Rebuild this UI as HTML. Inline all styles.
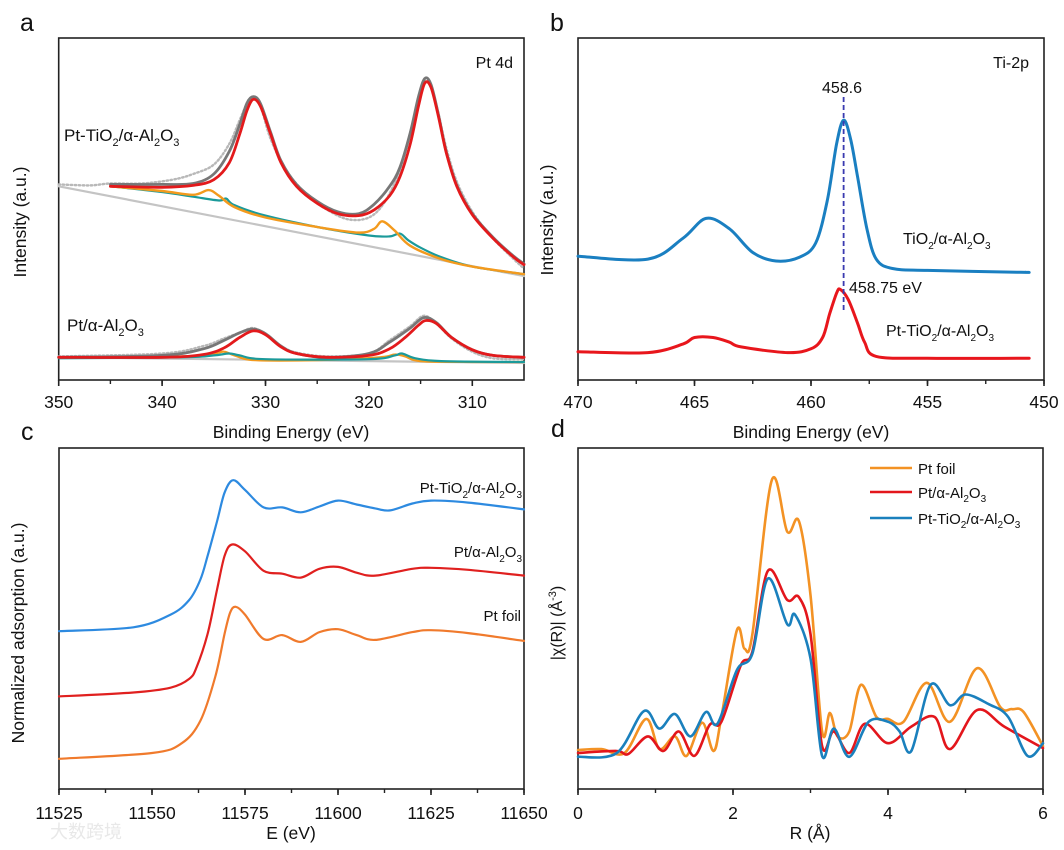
<!DOCTYPE html>
<html><head><meta charset="utf-8"><style>
html,body{margin:0;padding:0;background:#fff;}
svg{display:block;font-family:"Liberation Sans","Noto Sans CJK SC",sans-serif;}
</style></head><body>
<svg id="fig" width="1064" height="850" viewBox="0 0 1064 850">
<g font-size="25" fill="#111">
<text x="20" y="31">a</text>
<text x="550" y="31">b</text>
<text x="21" y="440">c</text>
<text x="551" y="437">d</text>
</g>
<text x="50" y="838" font-size="18" fill="#e8e8e8">大数跨境</text>
<g id="layer"></g>
</svg>
<script>
// ---------- Panel a data (Pt 4d XPS) ----------
const aTicks=[350,340,330,320,310];
const aTiRedX=[345,340,337,335,333.5,332.5,331.8,331.2,330.5,329.5,328.5,327,325,323,321,319.5,318,317,316,315.2,314.6,314,313.3,312.5,311.5,310,308,306,305];
const aTiRedY=[205,204,206,212,230,260,285,297,290,260,230,205,187,176,174,180,195,215,250,290,314,310,280,240,205,175,150,130,122];
const aTiFitY=[207,207,208,218,242,270,293,300,293,262,232,207,189,178,176,186,205,225,262,300,319,313,282,241,206,176,151,131,123];
const aTiRawX=[350,347,345,342,339,337,335,333.5,332.5,331.8,331.2,330.5,329.5,328,326,324,322,320,318.5,317,316,315.2,314.6,314,313.3,312.5,311.5,310,308,306,305];
const aTiRawY=[207,206,208,208,212,218,228,250,275,292,298,290,255,222,196,180,170,172,188,222,262,298,316,310,283,245,210,178,150,128,118];
const aTiBgX=[350,305];
const aTiBgY=[205,110];
const aTiOrX=[345,340,337,335.5,334.5,333,330,325,321,319.5,318.7,317.5,316,313,310,305];
const aTiOrY=[205,200,196,201,195,183,172,162,156,160,168,158,142,128,120,112];
const aTiTeX=[345,340,337,334.5,333.8,333,330,325,320,318,317,316.2,315,313,310,305];
const aTiTeY=[205,199,194,190,192,185,174,162,153,152,155,148,140,130,120,112];
const aAlX=[350,340,336,334,332.5,331.2,330,328.5,327,324,320,318,316.5,315.2,314.5,313.5,312,310,308,305];
const aAlRedY=[24,24,27,34,45,52,48,35,28,24,26,33,45,58,63,60,45,32,26,24];
const aAlFitX=[350,340,336,334,332.5,331.2,330,328.5,327,324,320,318,316,314.7,313.5,312,310,308,305];
const aAlFitY=[24,26,33,42,50,54,49,36,28,24,28,40,55,66,61,45,32,26,24];
const aAlRawY=[25,28,36,44,50,55,48,36,29,25,28,42,57,68,60,44,30,23,22];
const aAlOrX=[350,338,335,334,333,331,325,319,317.5,316.5,315,310,305];
const aAlOrY=[24,25,28,30,26,21,21,24,27,25,20,19,19];
const aAlTeX=[350,338,335,333.5,332.5,330,320,317.5,316.8,315.5,313,305];
const aAlTeY=[23,24,26,28,26,22,22,26,28,23,20,19];
const aAlBgX=[350,305];
const aAlBgY=[24,18];
// ---------- Panel b data (Ti 2p) ----------
const bTicks=[470,465,460,455,450];
const bBlueX=[470,467,465.5,464.5,463.5,462.5,461.5,460.5,459.8,459.3,458.9,458.6,458.3,458,457.6,457.2,456.5,455,451,450.8];
const bBlueY=[131,128,150,171,160,135,126,130,145,190,250,275,255,215,160,128,118,116,114,114];
const bRedX=[470,467,465.5,465,464.2,463.5,463,461,460,459.5,459.2,458.9,458.75,458.4,458,457.7,457.2,455,451,450.8];
const bRedY=[30,29,38,45,45,40,35,29,33,45,70,92,96,85,60,40,25,23,23,23];
// ---------- Panel c data (XANES) ----------
const cTicks=[11525,11550,11575,11600,11625,11650];
const cBlueX=[11525,11545,11555,11560,11563,11565,11567.5,11569.5,11571.8,11575,11580,11585,11590,11595,11600,11605,11610,11614,11620,11625,11635,11650];
const cBlueY=[162,166,179,194,215,240,275,304,317,307,289,289,284,290,296,292,288,286,293,296,294,287];
const cRedX=[11525,11545,11555,11560,11562,11565,11567.5,11569.5,11571.5,11575,11580,11585,11590,11595,11600,11605,11610,11620,11625,11635,11650];
const cRedY=[95,99,104,113,125,160,205,239,251,244,224,221,217,226,228,222,219,226,227,225,219];
const cOrX=[11525,11550,11558,11563,11567,11569.5,11571,11572.5,11575,11580,11585,11590,11595,11600,11605,11610,11620,11625,11635,11650];
const cOrY=[31,37,47,70,115,159,181,187,179,154,158,151,161,164,158,153,161,163,160,152];
// ---------- Panel d data (EXAFS FT) ----------
const dTicks=[0,2,4,6];
const dOrX=[0,0.3,0.6,0.88,1.05,1.25,1.4,1.6,1.75,1.85,2.05,2.15,2.25,2.5,2.7,2.85,3.0,3.15,3.25,3.35,3.5,3.65,3.85,4.0,4.2,4.5,4.8,5.15,5.45,5.6,5.75,6.0];
const dOrY=[40,41,37,72,41,54,34,68,39,74,163,144,159,317,264,275,199,59,78,54,59,107,74,72,69,109,69,124,84,82,79,44];
const dRedX=[0,0.5,0.65,0.9,1.1,1.3,1.5,1.7,1.85,2.1,2.25,2.45,2.7,2.85,3.0,3.15,3.3,3.5,3.7,4.0,4.3,4.6,4.8,5.15,5.5,6.0];
const dRedY=[37,39,36,54,39,59,34,66,69,127,141,224,194,197,159,44,59,37,67,47,64,74,41,81,64,42];
const dBlueX=[0,0.5,0.85,1.05,1.25,1.45,1.65,1.8,2.05,2.25,2.45,2.7,2.8,3.0,3.15,3.3,3.5,3.75,4.0,4.15,4.3,4.55,4.8,5.0,5.3,5.55,5.8,6.0];
const dBlueY=[33,37,80,62,77,54,79,67,122,139,216,169,179,134,34,62,33,69,69,59,39,107,86,97,87,74,34,47];

const NS='http://www.w3.org/2000/svg';
const layer=document.getElementById('layer');
function lin(d0,d1,r0,r1){return v=>r0+(v-d0)*(r1-r0)/(d1-d0);}
function mk(tag,attrs,parent){const e=document.createElementNS(NS,tag);for(const k in attrs)e.setAttribute(k,attrs[k]);(parent||layer).appendChild(e);return e;}
function smoothPath(xs,ys,sx,sy){
  const p=xs.map((x,i)=>[sx(x),sy(ys[i])]);
  let d='M'+p[0][0].toFixed(1)+','+p[0][1].toFixed(1);
  for(let i=0;i<p.length-1;i++){
    const p0=p[Math.max(0,i-1)],p1=p[i],p2=p[i+1],p3=p[Math.min(p.length-1,i+2)];
    const c1=[p1[0]+(p2[0]-p0[0])/6,p1[1]+(p2[1]-p0[1])/6];
    const c2=[p2[0]-(p3[0]-p1[0])/6,p2[1]-(p3[1]-p1[1])/6];
    d+='C'+c1[0].toFixed(1)+','+c1[1].toFixed(1)+' '+c2[0].toFixed(1)+','+c2[1].toFixed(1)+' '+p2[0].toFixed(1)+','+p2[1].toFixed(1);
  }
  return d;
}
function series(name,xs,ys,sx,sy,color,w,dash){
  const e=mk('path',{d:smoothPath(xs,ys,sx,sy),fill:'none',stroke:color,'stroke-width':w,'stroke-linejoin':'round','stroke-linecap':'round'});
  if(dash)e.setAttribute('stroke-dasharray',dash);
  
  
  return e;
}
function frame(name,x0,y0,x1,y1,ticks,sx,minorStep,labelY){
  const g=mk('g',{});
  
  
  const r=mk('rect',{x:x0,y:y0,width:x1-x0,height:y1-y0,fill:'none',stroke:'#222','stroke-width':1.6},g);
  
  
  const lo=Math.min(ticks[0],ticks[ticks.length-1]),hi=Math.max(ticks[0],ticks[ticks.length-1]);
  for(let v=lo;v<=hi+1e-9;v+=minorStep){
    const t=mk('line',{x1:sx(v),x2:sx(v),y1:y1,y2:y1+4,stroke:'#222','stroke-width':1.4},g);
    
    
  }
  ticks.forEach(v=>{
    const t=mk('line',{x1:sx(v),x2:sx(v),y1:y1,y2:y1+6,stroke:'#222','stroke-width':1.6},g);
    
    
    const l=mk('text',{x:sx(v),y:labelY,'text-anchor':'middle','font-size':17.5,fill:'#111'},g);
    l.textContent=String(v);
    
    
  });
}

// Panel a
const axA=lin(350,305,58.7,524), ayA=lin(0,362,380,38);
frame('panel-a-axes',58.7,38,524,380,aTicks,axA,5,408);
series('pt-tio2-raw-data',aTiRawX,aTiRawY,axA,ayA,'#b8b8b8',2.4,'1.5 2.5');
series('pt-tio2-background',aTiBgX,aTiBgY,axA,ayA,'#c4c4c4',2.2);
series('pt-tio2-teal-component',aTiTeX,aTiTeY,axA,ayA,'#1b9a9a',2.2);
series('pt-tio2-orange-component',aTiOrX,aTiOrY,axA,ayA,'#f39a1d',2.4);
series('pt-tio2-envelope-fit',aTiRedX,aTiFitY,axA,ayA,'#777',2.8);
series('pt-tio2-red-component',aTiRedX,aTiRedY,axA,ayA,'#e31a1c',2.8);
series('pt-al2o3-raw-data',aAlX.slice(0,1).concat(aAlFitX.slice(1)),aAlRawY,axA,ayA,'#b8b8b8',2.4,'1.5 2.5');
series('pt-al2o3-background',aAlBgX,aAlBgY,axA,ayA,'#c4c4c4',2.2);
series('pt-al2o3-orange-component',aAlOrX,aAlOrY,axA,ayA,'#f39a1d',2.2);
series('pt-al2o3-teal-component',aAlTeX,aAlTeY,axA,ayA,'#1b9a9a',2.2);
series('pt-al2o3-envelope-fit',aAlFitX,aAlFitY,axA,ayA,'#777',2.8);
series('pt-al2o3-red-component',aAlX,aAlRedY,axA,ayA,'#e31a1c',2.8);

// Panel b
const axB=lin(470,450,578,1044), ayB=lin(0,362,380,38);
frame('panel-b-axes',578,38,1044,380,bTicks,axB,2.5,408);
series('tio2-al2o3-ti2p',bBlueX,bBlueY,axB,ayB,'#1a7fc1',3);
series('pt-tio2-al2o3-ti2p',bRedX,bRedY,axB,ayB,'#e8161c',3);
const dl=mk('line',{x1:axB(458.6),x2:axB(458.6),y1:97,y2:312,stroke:'#3a3ab0','stroke-width':1.8,'stroke-dasharray':'5 3'});



// Panel c
const axC=lin(11525,11650,59,524), ayC=lin(0,350,789,448);
frame('panel-c-axes',59,448,524,789,cTicks,axC,12.5,819);
series('xanes-pt-tio2-al2o3',cBlueX,cBlueY,axC,ayC,'#2d8ae0',2.2);
series('xanes-pt-al2o3',cRedX,cRedY,axC,ayC,'#e0201f',2.2);
series('xanes-pt-foil',cOrX,cOrY,axC,ayC,'#f07a2c',2.2);

// Panel d
const axD=lin(0,6,578,1043), ayD=lin(0,350,789,448);
frame('panel-d-axes',578,448,1043,789,dTicks,axD,1,819);
series('exafs-pt-foil',dOrX,dOrY,axD,ayD,'#f39224',2.6);
series('exafs-pt-al2o3',dRedX,dRedY,axD,ayD,'#e3161c',2.6);
series('exafs-pt-tio2-al2o3',dBlueX,dBlueY,axD,ayD,'#1a80bd',2.6);
</script>
<svg width="1064" height="850" style="position:absolute;left:0;top:0" font-family="Liberation Sans, sans-serif">
<g fill="#111">
<text x="291" y="438" font-size="17.5" text-anchor="middle">Binding Energy (eV)</text>
<text x="811" y="438" font-size="17.5" text-anchor="middle">Binding Energy (eV)</text>
<text x="291" y="839" font-size="17.5" text-anchor="middle">E (eV)</text>
<text x="810" y="839" font-size="17.5" text-anchor="middle">R (Å)</text>
<text transform="translate(26,222) rotate(-90)" font-size="17.5" text-anchor="middle">Intensity (a.u.)</text>
<text transform="translate(553,220) rotate(-90)" font-size="17.5" text-anchor="middle">Intensity (a.u.)</text>
<text transform="translate(24,633) rotate(-90)" font-size="17.5" text-anchor="middle">Normalized adsorption (a.u.)</text>
<text transform="translate(562,623) rotate(-90)" font-size="16" text-anchor="middle">|χ(R)| (Å<tspan font-size="11" dy="-6">-3</tspan><tspan dy="6">)</tspan></text>

<text x="513" y="68" font-size="16" text-anchor="end">Pt 4d</text>
<text x="64" y="141" font-size="17">Pt-TiO<tspan font-size="11" dy="5">2</tspan><tspan dy="-5">/α-Al</tspan><tspan font-size="11" dy="5">2</tspan><tspan dy="-5">O</tspan><tspan font-size="11" dy="5">3</tspan></text>
<text x="67" y="331" font-size="17">Pt/α-Al<tspan font-size="11" dy="5">2</tspan><tspan dy="-5">O</tspan><tspan font-size="11" dy="5">3</tspan></text>

<text x="1029" y="68" font-size="16" text-anchor="end">Ti-2p</text>
<text x="842" y="93" font-size="16" text-anchor="middle">458.6</text>
<text x="849" y="293" font-size="16">458.75 eV</text>
<text x="903" y="244" font-size="16">TiO<tspan font-size="10" dy="5">2</tspan><tspan dy="-5">/α-Al</tspan><tspan font-size="10" dy="5">2</tspan><tspan dy="-5">O</tspan><tspan font-size="10" dy="5">3</tspan></text>
<text x="886" y="336" font-size="16">Pt-TiO<tspan font-size="10" dy="5">2</tspan><tspan dy="-5">/α-Al</tspan><tspan font-size="10" dy="5">2</tspan><tspan dy="-5">O</tspan><tspan font-size="10" dy="5">3</tspan></text>

<text x="522" y="493" font-size="15" text-anchor="end">Pt-TiO<tspan font-size="10" dy="5">2</tspan><tspan dy="-5">/α-Al</tspan><tspan font-size="10" dy="5">2</tspan><tspan dy="-5">O</tspan><tspan font-size="10" dy="5">3</tspan></text>
<text x="522" y="557" font-size="15" text-anchor="end">Pt/α-Al<tspan font-size="10" dy="5">2</tspan><tspan dy="-5">O</tspan><tspan font-size="10" dy="5">3</tspan></text>
<text x="521" y="621" font-size="15" text-anchor="end">Pt foil</text>

<g>
<line x1="870" x2="912" y1="468" y2="468" stroke="#f39224" stroke-width="2.4"/>
<text x="918" y="474" font-size="15">Pt foil</text>
<line x1="870" x2="912" y1="492" y2="492" stroke="#e3161c" stroke-width="2.4"/>
<text x="918" y="498" font-size="15">Pt/α-Al<tspan font-size="10" dy="4">2</tspan><tspan dy="-4">O</tspan><tspan font-size="10" dy="4">3</tspan></text>
<line x1="870" x2="912" y1="518" y2="518" stroke="#1a80bd" stroke-width="2.4"/>
<text x="918" y="524" font-size="15">Pt-TiO<tspan font-size="10" dy="4">2</tspan><tspan dy="-4">/α-Al</tspan><tspan font-size="10" dy="4">2</tspan><tspan dy="-4">O</tspan><tspan font-size="10" dy="4">3</tspan></text>
</g>
</g>
</svg>
</body></html>
